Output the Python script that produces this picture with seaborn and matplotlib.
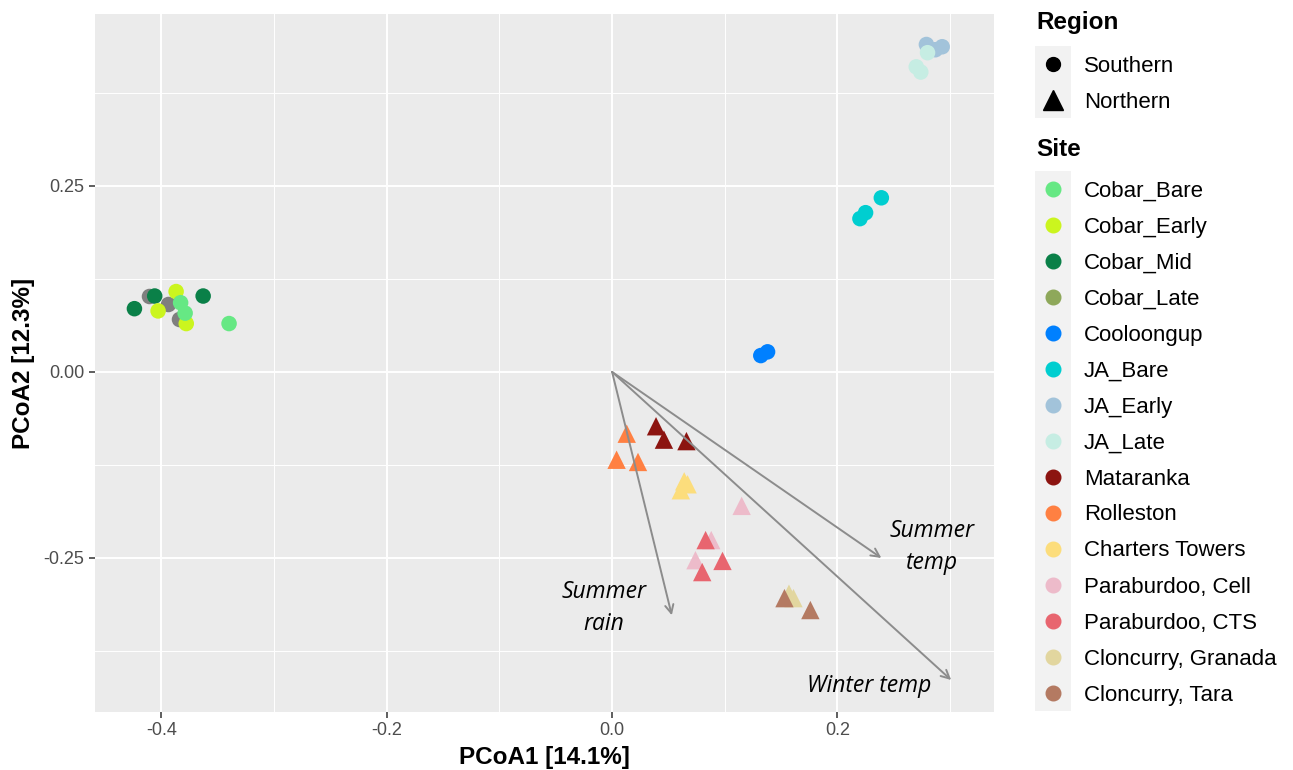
import matplotlib
matplotlib.use("Agg")
import matplotlib.pyplot as plt
from matplotlib.lines import Line2D
from matplotlib.patches import Rectangle
from matplotlib.ticker import FixedLocator
import seaborn as sns
import pandas as pd

# --- data -----------------------------------------------------------------
site_names = ["Cobar_Bare", "Cobar_Early", "Cobar_Mid", "Cobar_Late", "Cooloongup",
              "JA_Bare", "JA_Early", "JA_Late", "Mataranka", "Rolleston",
              "Charters Towers", "Paraburdoo, Cell", "Paraburdoo, CTS",
              "Cloncurry, Granada", "Cloncurry, Tara"]
site_colors = ["#66E884", "#CBF51E", "#0A8048", "#8EA85A", "#0080FF",
               "#00CED0", "#A2C3DA", "#C6EDE3", "#8C1410", "#FF8042",
               "#FCDD7C", "#EDBBCA", "#E8656F", "#E2D69F", "#B47A62"]
site_region = ["Southern"] * 8 + ["Northern"] * 7

sample_site = (["Cobar_Mid"] * 3 + [None] * 3 + ["Cobar_Early"] * 3 + ["Cobar_Bare"] * 3
               + ["JA_Early"] * 3 + ["JA_Late"] * 3 + ["JA_Bare"] * 3 + ["Cooloongup"] * 2
               + ["Rolleston"] * 3 + ["Mataranka"] * 3 + ["Charters Towers"] * 3
               + ["Paraburdoo, Cell"] * 3 + ["Paraburdoo, CTS"] * 3
               + ["Cloncurry, Granada"] * 2 + ["Cloncurry, Tara"] * 2)
pc1 = [-0.424, -0.406, -0.363, -0.411, -0.394, -0.384, -0.387, -0.403, -0.378,
       -0.383, -0.379, -0.340,
       0.279, 0.293, 0.287, 0.280, 0.270, 0.274, 0.239, 0.225, 0.220, 0.138, 0.132,
       0.013, 0.004, 0.023, 0.039, 0.046, 0.066, 0.064, 0.067, 0.061,
       0.115, 0.088, 0.074, 0.083, 0.098, 0.080, 0.157, 0.161, 0.153, 0.176]
pc2 = [0.085, 0.102, 0.102, 0.102, 0.091, 0.071, 0.108, 0.082, 0.065,
       0.093, 0.079, 0.065,
       0.440, 0.437, 0.433, 0.429, 0.410, 0.403, 0.234, 0.214, 0.206, 0.027, 0.022,
       -0.083, -0.118, -0.121, -0.073, -0.091, -0.093, -0.147, -0.151, -0.159,
       -0.180, -0.226, -0.253, -0.226, -0.254, -0.269, -0.298, -0.304, -0.304, -0.320]

# environmental vectors
env_names = ["Summer\nrain", "Summer\ntemp", "Winter temp"]
env_x = [0.053, 0.239, 0.301]
env_y = [-0.327, -0.250, -0.414]
env_label_x = [-0.007, 0.284, 0.228]
env_label_y = [-0.317, -0.235, -0.422]

W, H = 1293, 770
PANEL_BG = "#EBEBEB"
NA_GREY = "#7F7F7F"

df = pd.DataFrame({"PCoA1": pc1, "PCoA2": pc2, "Site": sample_site})
region_of = dict(zip(site_names, site_region))
df["Region"] = df["Site"].map(region_of).fillna("Southern")
palette = dict(zip(site_names, site_colors))

plt.rcParams["font.family"] = ["Liberation Sans", "DejaVu Sans"]
fig = plt.figure(figsize=(W / 100, H / 100), dpi=100)
ax = fig.add_axes([95 / W, 1 - 712 / H, (994 - 95) / W, (712 - 14) / H])
ax.set_facecolor(PANEL_BG)
ax.set_axisbelow(True)

# grid: white major/minor lines as in ggplot theme_grey
ax.set_xticks([-0.4, -0.2, 0.0, 0.2])
ax.set_xticklabels(["-0.4", "-0.2", "0.0", "0.2"])
ax.set_yticks([-0.25, 0.0, 0.25])
ax.set_yticklabels(["-0.25", "0.00", "0.25"])
ax.xaxis.set_minor_locator(FixedLocator([-0.3, -0.1, 0.1, 0.3]))
ax.yaxis.set_minor_locator(FixedLocator([-0.375, -0.125, 0.125, 0.375]))
ax.grid(which="major", color="white", linewidth=1.4)
ax.grid(which="minor", color="white", linewidth=0.7)
ax.tick_params(which="major", length=4, width=1.1, color="#333333",
               labelsize=13, labelcolor="#4D4D4D")
ax.tick_params(which="minor", length=0)
for sp in ax.spines.values():
    sp.set_visible(False)

# points
sns.scatterplot(data=df[df["Site"].isna()], x="PCoA1", y="PCoA2", color=NA_GREY,
                marker="o", s=125, linewidth=0, legend=False, ax=ax, zorder=3)
south = df[df["Site"].notna() & (df["Region"] == "Southern")]
north = df[df["Region"] == "Northern"]
sns.scatterplot(data=south, x="PCoA1", y="PCoA2", hue="Site", palette=palette,
                marker="o", s=125, linewidth=0, legend=False, ax=ax, zorder=3)
sns.scatterplot(data=north, x="PCoA1", y="PCoA2", hue="Site", palette=palette,
                marker="^", s=175, linewidth=0, legend=False, ax=ax, zorder=3)

# env vectors
for name, ex, ey, lx, ly in zip(env_names, env_x, env_y, env_label_x, env_label_y):
    ax.annotate("", xy=(ex, ey), xytext=(0, 0),
                arrowprops=dict(arrowstyle="->,head_length=0.6,head_width=0.3",
                                color="#8C8C8C", lw=1.4, shrinkA=0, shrinkB=0),
                zorder=4)
    ax.text(lx, ly, name, ha="center", va="center", fontsize=16.5, style="italic",
            family=["Open Sans", "DejaVu Sans"], color="black", linespacing=1.45,
            zorder=5)

ax.set_xlim(-0.459, 0.339)
ax.set_ylim(-0.457, 0.481)
ax.set_xlabel("PCoA1 [14.1%]", fontsize=17.5, fontweight="bold", labelpad=5)
ax.set_ylabel("PCoA2 [12.3%]", fontsize=17.5, fontweight="bold", labelpad=6)


# legend drawn by hand in pixel coordinates
def px(x, y):
    return x / W, 1 - y / H


def key_block(y0, y1):
    x0, yy = px(1035, y1)
    fig.add_artist(Rectangle((x0, yy), 36 / W, (y1 - y0) / H,
                             transform=fig.transFigure, facecolor="#F2F2F2",
                             edgecolor="none"))


def key_entry(y, label, marker, color, ms):
    fig.add_artist(Line2D([px(1053, y)[0]], [px(1053, y)[1]], marker=marker,
                          color=color, markersize=ms, linestyle="none",
                          transform=fig.transFigure))
    fig.text(*px(1084, y + 2), label, fontsize=16, va="center", ha="left")


fig.text(*px(1036, 23), "Region", fontsize=17.5, fontweight="bold", va="center")
key_block(46, 118)
key_entry(64, "Southern", "o", "black", 10)
key_entry(100, "Northern", "^", "black", 14)

fig.text(*px(1036, 149), "Site", fontsize=17.5, fontweight="bold", va="center")
key_block(171, 711)
for i, (name, col) in enumerate(zip(site_names, site_colors)):
    key_entry(189 + 36 * i, name, "o", col, 10.5)

fig.savefig("out.png", dpi=100)
